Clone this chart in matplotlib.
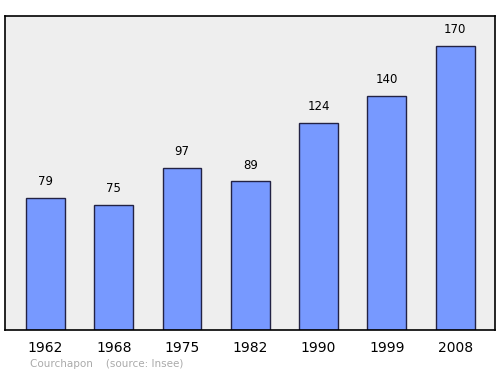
import matplotlib.pyplot as plt

years = ["1962", "1968", "1975", "1982", "1990", "1999", "2008"]
population = [79, 75, 97, 89, 124, 140, 170]

fig = plt.figure(figsize=(5, 3.74), dpi=100)
ax = fig.add_axes([0.01, 0.1176, 0.98, 0.8396])
ax.set_facecolor("#eeeeee")

x = range(len(years))
ax.bar(x, population, width=0.57, color="#7799ff", edgecolor="#222244", linewidth=1)
for i, v in zip(x, population):
    ax.annotate(str(v), (i, v), xytext=(0, 7), textcoords="offset points",
                ha="center", va="bottom", fontsize=8.5)

ax.set_xlim(-0.593, 6.585)
ax.set_ylim(0, 188)
ax.set_xticks(list(x))
ax.set_xticklabels(years, fontsize=10)
ax.tick_params(axis="x", length=0, pad=8)
ax.set_yticks([])
for s in ax.spines.values():
    s.set_linewidth(1.2)

fig.text(0.06, 0.018, "Courchapon    (source: Insee)", color="#aaaaaa", fontsize=7.5)
fig.savefig("out.png")
